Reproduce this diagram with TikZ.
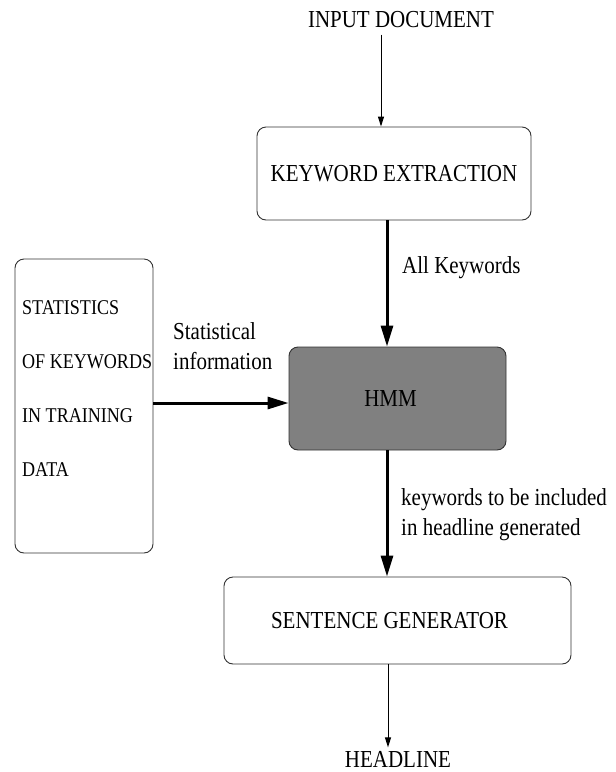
\documentclass[tikz,border=0pt]{standalone}
\usepackage{fontspec}
\setmainfont{Liberation Serif}[FakeStretch=0.86]
\usetikzlibrary{arrows.meta,calc}
\definecolor{hmmgray}{gray}{0.5}
\tikzset{
  blk/.style={draw=black!80, line width=0.9pt, rounded corners=9pt, minimum width=#1},
  blk/.default=100pt,
  thinarr/.style={-{Triangle[length=10pt,width=6pt]}, line width=1pt},
  thickarr/.style={-{Triangle[length=21pt,width=12pt]}, line width=3pt},
  lbl/.style={anchor=west, align=left, inner sep=0pt, font=\fontsize{24.4}{30}\selectfont}
}
\begin{document}
\begin{tikzpicture}[x=1pt, y=-1pt, font=\fontsize{24.4}{28}\selectfont, line join=round]
  \useasboundingbox (0,0) rectangle (616,772);
  \coordinate (col) at (387,0);
  \coordinate (row) at (0,403);
  % boxes
  \node (input) at (401,20) {INPUT DOCUMENT};
  \node[blk=274pt, minimum height=93pt] (kwx) at (394,173.5) {KEYWORD EXTRACTION};
  \node[blk=217pt, minimum height=103pt, fill=hmmgray] (hmm) at (397.5,398.5) {HMM\hspace*{14pt}};
  \node[blk=347pt, minimum height=87pt] (sgen) at (397.5,620.5) {SENTENCE GENERATOR\hspace*{16pt}};
  \node (headline) at (398,759) {HEADLINE};
  \node[blk=138pt, minimum height=294pt] (stats) at (84,406) {};
  \node[anchor=west, align=left, inner sep=0pt, font=\fontsize{21}{54}\selectfont] (stxt) at (22,389)
    {STATISTICS\\OF KEYWORDS\\IN TRAINING\\DATA};
  % connectors
  \draw[thinarr, shorten <=3pt] ([xshift=-20pt]input.south) -- ([xshift=-20pt]input.south |- kwx.north);
  \draw[thickarr] (kwx.south -| col) -- (hmm.north -| col);
  \draw[thickarr] (hmm.south -| col) -- (sgen.north -| col);
  \draw[thinarr] ([xshift=1pt]sgen.south -| col) -- ([xshift=1pt]headline.north -| col);
  \draw[thickarr] (stats.east |- row) -- (hmm.west |- row);
  % labels
  \node[lbl] (lall) at (402,268) {All Keywords};
  \node[lbl] (lstat) at (173,346) {Statistical\\information};
  \node[lbl] (lkw) at (401,515) {keywords to be included\\in headline generated};
\end{tikzpicture}
\end{document}
